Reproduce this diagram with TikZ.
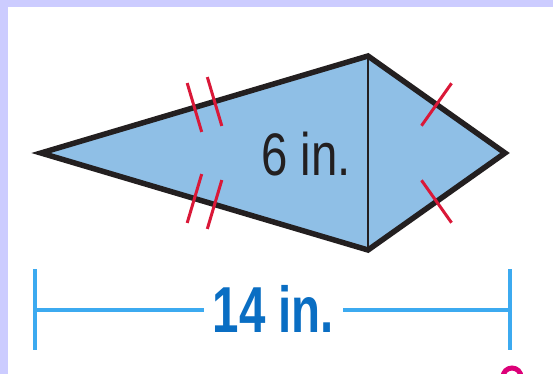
\documentclass[tikz,border=0pt]{standalone}
\usepackage{fontspec}
\usetikzlibrary{calc}
\newfontfamily\sixfont[FakeStretch=0.79]{Liberation Sans}
\newfontfamily\dimfont[FakeStretch=0.73]{Liberation Sans}
\definecolor{frame}{RGB}{204,204,255}
\definecolor{kitefill}{RGB}{143,191,230}
\definecolor{outline}{RGB}{35,31,32}
\definecolor{hash}{RGB}{218,24,56}
\definecolor{dimline}{RGB}{60,170,240}
\definecolor{dimtext}{RGB}{10,110,195}
\definecolor{pagenum}{RGB}{220,0,120}

\tikzset{
  hashmark/.style={hash, line width=3pt},
  dimrule/.style={dimline, line width=3.2pt},
}

\begin{document}
\begin{tikzpicture}[x=1pt, y=-1pt]
  % page and frame
  \useasboundingbox (0,0) rectangle (553,374);
  \fill[white] (0,0) rectangle (553,374);
  \fill[frame] (0,0) rectangle (553,7);
  \fill[frame] (0,0) rectangle (8,374);

  % kite corners
  \coordinate (L) at (41,153);
  \coordinate (T) at (368,56);
  \coordinate (R) at (505,153);
  \coordinate (B) at (368,250);

  % kite and diagonal
  \filldraw[fill=kitefill, draw=outline, line width=5.5pt, miter limit=20]
    (L) -- (T) -- (R) -- (B) -- cycle;
  \draw[outline, line width=2pt] (T) -- (B);

  % double hash marks on the long sides
  \foreach \s in {-10.5pt,10.5pt} {
    \coordinate (uh) at ($(L)!0.5!(T)!\s!(T)$);
    \draw[hashmark] ($(uh)!25.5pt!90:(T)$) -- ($(uh)!25.5pt!-90:(T)$);
    \coordinate (lh) at ($(L)!0.5!(B)!\s!(B)$);
    \draw[hashmark] ($(lh)!25.5pt!90:(B)$) -- ($(lh)!25.5pt!-90:(B)$);
  }

  % single hash marks on the short sides
  \coordinate (rh) at ($(T)!0.5!(R)$);
  \draw[hashmark] ($(rh)!26pt!90:(R)$) -- ($(rh)!26pt!-90:(R)$);
  \coordinate (bh) at ($(B)!0.5!(R)$);
  \draw[hashmark] ($(bh)!26pt!90:(R)$) -- ($(bh)!26pt!-90:(R)$);

  % diagonal label
  \node[anchor=base east, inner sep=0pt, text=outline,
    font=\sixfont\fontsize{60}{60}\selectfont] (six) at (351,175) {6 in.};

  % overall length
  \coordinate (dimL) at (35,310);
  \coordinate (dimR) at (510,310);
  \draw[dimrule] ($(dimL)+(0,-41)$) -- ($(dimL)+(0,40)$);
  \draw[dimrule] ($(dimR)+(0,-41)$) -- ($(dimR)+(0,40)$);
  \node[anchor=base, text=dimtext, inner xsep=9pt, inner ysep=0pt,
    font=\dimfont\bfseries\fontsize{65}{65}\selectfont] (fourteen) at (273.5,332) {14 in.};
  \draw[dimrule] (dimL) -- (dimL -| fourteen.west);
  \draw[dimrule] (fourteen.east |- dimR) -- (dimR);

  % cut-off mark at the bottom edge
  \draw[pagenum, line width=5pt] (512,377) circle[radius=9pt];
\end{tikzpicture}
\end{document}
